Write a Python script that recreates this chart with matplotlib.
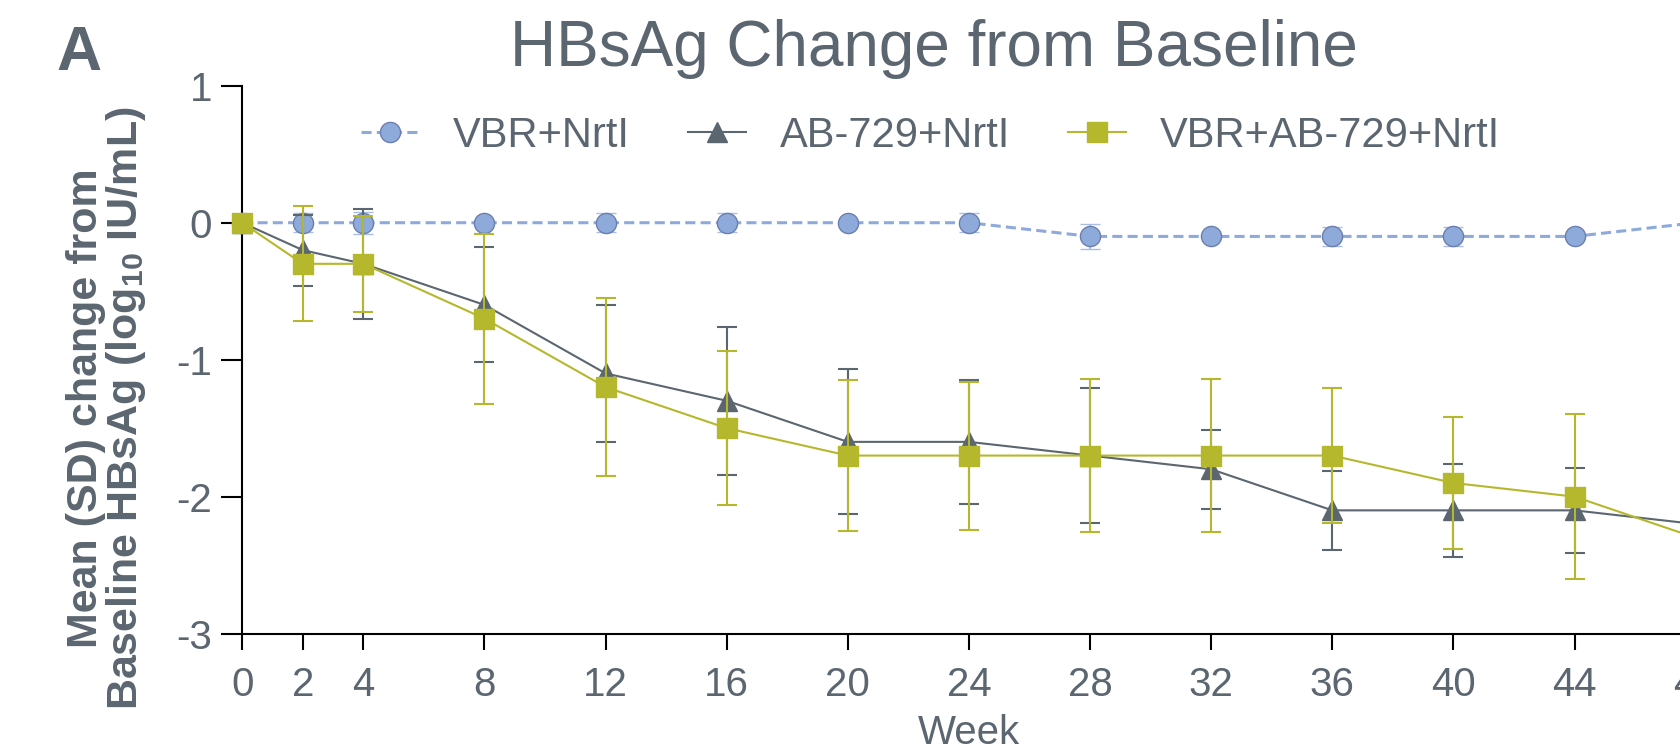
import matplotlib
matplotlib.use("Agg")
import matplotlib.pyplot as plt
from matplotlib.lines import Line2D

plt.rcParams['font.family'] = ['Liberation Sans', 'DejaVu Sans']
plt.rcParams['mathtext.fontset'] = 'custom'
plt.rcParams['mathtext.rm'] = 'Liberation Sans'
plt.rcParams['mathtext.bf'] = 'Liberation Sans:bold'

# ---- data ----
weeks = [0, 2, 4, 8, 12, 16, 20, 24, 28, 32, 36, 40, 44, 48]

vbr_mean = [0, 0, 0, 0, 0, 0, 0, 0, -0.1, -0.1, -0.1, -0.1, -0.1, 0.0]
vbr_sd = [0, 0.07, 0.08, 0, 0.07, 0.07, 0, 0.07, 0.09, 0, 0.07, 0.07, 0, 0.07]

ab_mean = [0, -0.2, -0.3, -0.6, -1.1, -1.3, -1.6, -1.6, -1.7, -1.8, -2.1, -2.1, -2.1, -2.2]
ab_sd = [0, 0.26, 0.40, 0.42, 0.50, 0.54, 0.53, 0.45, 0.49, 0.29, 0.29, 0.34, 0.31, 0.30]

combo_mean = [0, -0.3, -0.3, -0.7, -1.2, -1.5, -1.7, -1.7, -1.7, -1.7, -1.7, -1.9, -2.0, -2.3]
combo_sd = [0, 0.42, 0.35, 0.62, 0.65, 0.56, 0.55, 0.54, 0.56, 0.56, 0.49, 0.48, 0.60, 0.60]

labels = ['VBR+NrtI', 'AB-729+NrtI', 'VBR+AB-729+NrtI']
xticks = [0, 2, 4, 8, 12, 16, 20, 24, 28, 32, 36, 40, 44, 48]
yticks = [1, 0, -1, -2, -3]

# ---- colours ----
txt = '#5b6670'
blue = '#8eaadb'
blue_edge = '#6a7fb0'
blue_err = '#a9bde6'
grey = '#5b6670'
olive = '#b5b82d'

fig = plt.figure(figsize=(16.81, 7.51), dpi=100)
ax = fig.add_axes([0.1441, 0.1563, 0.8646, 0.7295])

blue_style = dict(color=blue, linestyle=(0, (3.3, 1.7)), linewidth=2.2,
                  marker='o', markersize=14.5, markerfacecolor=blue,
                  markeredgecolor=blue_edge, markeredgewidth=1)
grey_style = dict(color=grey, linewidth=1.5, marker='^', markersize=15,
                  markerfacecolor=grey, markeredgecolor=grey)
olive_style = dict(color=olive, linewidth=1.5, marker='s', markersize=15,
                   markerfacecolor=olive, markeredgecolor=olive)

ax.errorbar(weeks, vbr_mean, yerr=vbr_sd, ecolor=blue_err, elinewidth=1.5,
            capsize=7.5, capthick=1.5, clip_on=False, zorder=3, **blue_style)
ax.errorbar(weeks, ab_mean, yerr=ab_sd, ecolor=grey, elinewidth=1.5,
            capsize=7.5, capthick=1.5, clip_on=False, zorder=4, **grey_style)
ax.errorbar(weeks, combo_mean, yerr=combo_sd, ecolor=olive, elinewidth=1.5,
            capsize=7.5, capthick=1.5, clip_on=False, zorder=5, **olive_style)

ax.set_xlim(0, 48)
ax.set_ylim(-3, 1)
ax.set_xticks(xticks)
ax.set_yticks(yticks)
ax.set_yticklabels([str(v) for v in yticks])

for s in ['top', 'right']:
    ax.spines[s].set_visible(False)
for s in ['left', 'bottom']:
    ax.spines[s].set_linewidth(1.5)
    ax.spines[s].set_color('black')

ax.tick_params(axis='x', direction='out', length=11.5, width=1.5, pad=12,
               labelsize=29, labelcolor=txt, color='black')
ax.tick_params(axis='y', direction='out', length=15, width=1.5, pad=6.5,
               labelsize=29, labelcolor=txt, color='black')

ax.set_xlabel('Week', fontsize=29, color=txt, labelpad=7)

fig.text(0.0637, 0.457,
         'Mean (SD) change from\nBaseline HBsAg (log$_{\\mathbf{10}}$ IU/mL)',
         rotation=90, ha='center', va='center', multialignment='center',
         fontsize=31, fontweight='bold', color=txt, linespacing=0.95)

fig.text(0.5556, 0.9115, 'HBsAg Change from Baseline', ha='center',
         va='baseline', fontsize=46, color=txt)
fig.text(0.0333, 0.9068, 'A', ha='left', va='baseline', fontsize=45,
         fontweight='bold', color=txt)

handles = [Line2D([], [], **blue_style), Line2D([], [], **grey_style),
           Line2D([], [], **olive_style)]
leg = fig.legend(handles, labels, loc='center', bbox_to_anchor=(0.5535, 0.819),
                 ncol=3, frameon=False, fontsize=30, handlelength=1.4,
                 handletextpad=0.8, columnspacing=1.4)
for t in leg.get_texts():
    t.set_color(txt)

fig.savefig('out.png', dpi=100)
